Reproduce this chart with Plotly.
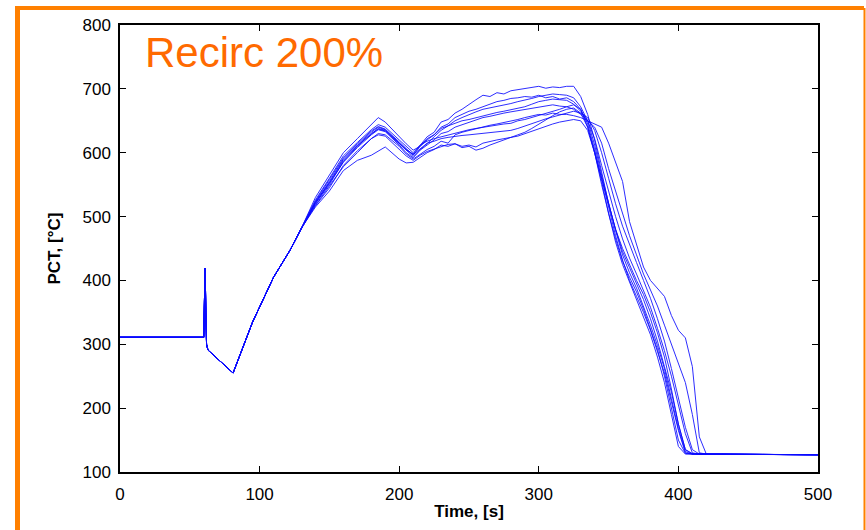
import plotly.graph_objects as go

# Common start of every run (time in s, PCT in degC)
time_pre = [0, 60, 60.5, 61, 61.5, 62, 63, 81, 95, 110, 122, 130]
pct_pre = [311, 311, 370, 419, 350, 300, 291, 255, 335, 405, 448, 482]

# Shared time grid for the divergent part of the runs
time_grid = [140, 150, 160, 170, 180, 185, 190, 200, 205,
             210, 215, 220, 225, 230, 235, 240, 245, 250, 255, 260, 265, 270,
             275, 280, 285, 290, 295, 300, 305, 310, 315, 320, 325, 330, 335,
             340, 345, 350, 355, 360, 365, 370, 375, 380, 385, 390, 395, 400,
             405, 410, 415, 420, 430, 500]

pct_run01 = [522, 555, 590, 612, 632, 640, 636, 615, 605,
             598, 612, 625, 632, 648, 652, 662, 668, 676, 683, 690, 688, 694,
             692, 697, 699, 700, 702, 704, 701, 703, 702, 704, 704, 688, 660,
             620, 570, 520, 480, 445, 420, 395, 370, 340, 305, 265, 225, 175,
             135, 129, 128, 128, 128, 127]
pct_run02 = [530, 565, 600, 622, 645, 655, 648, 625, 614,
             604, 610, 622, 628, 640, 645, 655, 660, 665, 668, 672, 676, 680,
             682, 685, 686, 688, 687, 690, 686, 688, 684, 686, 680, 668, 640,
             600, 555, 505, 465, 430, 405, 382, 355, 325, 292, 250, 200, 150,
             129, 128, 128, 128, 128, 127]
pct_run03 = [518, 548, 578, 600, 622, 630, 628, 610, 598,
             590, 598, 605, 610, 618, 615, 628, 632, 635, 638, 640, 643, 645,
             647, 650, 652, 655, 657, 660, 659, 662, 660, 660, 658, 655, 650,
             645, 640, 615, 585, 555, 492, 455, 421, 400, 388, 375, 345, 322,
             310, 265, 155, 128, 128, 127]
pct_run04 = [520, 552, 585, 608, 628, 636, 633, 612, 600,
             592, 604, 612, 620, 630, 633, 640, 644, 648, 652, 655, 657, 660,
             662, 664, 666, 668, 670, 672, 674, 675, 673, 672, 668, 660, 650,
             640, 615, 575, 540, 505, 470, 440, 410, 385, 360, 330, 300, 270,
             240, 190, 130, 128, 128, 127]
pct_run05 = [515, 540, 572, 588, 596, 603, 609, 590, 584,
             585, 592, 600, 605, 612, 610, 614, 608, 610, 604, 607, 612, 616,
             620, 624, 626, 630, 634, 638, 641, 645, 648, 650, 652, 650, 635,
             600, 560, 520, 480, 450, 425, 400, 378, 350, 318, 280, 230, 175,
             135, 128, 128, 128, 128, 127]
pct_run06 = [526, 560, 595, 616, 636, 644, 640, 620, 610,
             600, 612, 618, 622, 625, 628, 630, 634, 636, 638, 640, 641, 643,
             645, 646, 650, 652, 655, 658, 662, 665, 668, 672, 675, 668, 645,
             605, 560, 515, 470, 432, 400, 375, 350, 322, 290, 255, 210, 165,
             130, 128, 128, 128, 128, 127]
pct_run07 = [517, 545, 580, 603, 622, 628, 626, 606, 595,
             588, 596, 602, 606, 610, 613, 614, 610, 612, 609, 615, 618, 620,
             622, 624, 628, 632, 638, 645, 652, 658, 664, 668, 670, 662, 640,
             600, 550, 505, 460, 425, 398, 372, 345, 315, 280, 240, 190, 140,
             128, 128, 128, 128, 128, 127]
pct_run08 = [524, 558, 592, 614, 634, 641, 637, 617, 606,
             596, 610, 620, 628, 638, 642, 646, 650, 652, 655, 658, 660, 663,
             665, 667, 670, 672, 676, 680, 682, 684, 683, 682, 676, 665, 650,
             622, 580, 540, 500, 465, 435, 410, 385, 358, 325, 290, 250, 205,
             160, 130, 128, 128, 128, 127]
pct_run09 = [521, 550, 586, 610, 630, 637, 634, 614, 603,
             594, 605, 614, 625, 635, 642, 650, 655, 660, 664, 668, 670, 673,
             675, 677, 680, 682, 685, 688, 690, 692, 691, 690, 686, 672, 650,
             612, 565, 520, 478, 440, 412, 388, 360, 330, 298, 262, 215, 168,
             132, 128, 128, 128, 128, 127]
pct_run10 = [523, 553, 588, 611, 630, 638, 635, 615, 605,
             597, 606, 615, 618, 622, 624, 626, 627, 628, 629, 630, 631, 632,
             634, 635, 638, 642, 646, 650, 653, 656, 659, 662, 665, 662, 655,
             635, 600, 560, 520, 485, 455, 428, 400, 372, 340, 305, 262, 215,
             170, 135, 128, 128, 128, 127]

runs = [pct_run01, pct_run02, pct_run03, pct_run04, pct_run05,
        pct_run06, pct_run07, pct_run08, pct_run09, pct_run10]

fig = go.Figure()
for i, run in enumerate(runs):
    fig.add_trace(go.Scatter(
        x=time_pre + time_grid, y=pct_pre + run, mode="lines",
        line=dict(color="rgb(10,10,255)", width=1), opacity=0.85,
        name=f"Run {i+1}", showlegend=False, hoverinfo="x+y"))

W, H = 866, 530
L, R, T, B = 120, 48, 25, 58
pw, ph = W - L - R, H - T - B

def px(x):
    return (x - L) / pw

def py(y):
    return (H - B - y) / ph

orange = "#FF8000"
fig.add_shape(type="line", xref="paper", yref="paper",
              x0=px(17.5), x1=px(17.5), y0=py(8), y1=py(560),
              line=dict(color=orange, width=5))
fig.add_shape(type="line", xref="paper", yref="paper",
              x0=px(15), x1=px(864), y0=py(8), y1=py(8),
              line=dict(color=orange, width=4))
fig.add_shape(type="line", xref="paper", yref="paper",
              x0=px(864.5), x1=px(864.5), y0=py(8), y1=py(560),
              line=dict(color=orange, width=2))

fig.add_annotation(text="Recirc 200%", xref="paper", yref="paper",
                   x=px(143), y=py(52), xanchor="left", yanchor="middle",
                   showarrow=False,
                   font=dict(family="Liberation Sans, Arial", size=42, color="#FF6A00"))

axis_common = dict(
    showline=True, linecolor="black", linewidth=1.5, mirror="ticks",
    ticks="inside", ticklen=6, tickwidth=1, tickcolor="black",
    showgrid=False, zeroline=False, automargin=False,
    tickfont=dict(family="Liberation Sans, Arial", size=17, color="black"),
)

fig.update_xaxes(range=[0, 500], dtick=100, tick0=0, ticklabelstandoff=6,
                 title=dict(text="<b>Time, [s]</b>", standoff=2,
                            font=dict(family="Liberation Sans, Arial", size=17, color="black")),
                 **axis_common)
fig.update_yaxes(range=[100, 800], dtick=100, tick0=100, ticklabelstandoff=4,
                 title=dict(text="<b>PCT, [°C]</b>", standoff=18,
                            font=dict(family="Liberation Sans, Arial", size=17, color="black")),
                 **axis_common)

fig.update_layout(width=W, height=H, margin=dict(l=L, r=R, t=T, b=B),
                  paper_bgcolor="white", plot_bgcolor="white")

fig.write_html("out.html")
